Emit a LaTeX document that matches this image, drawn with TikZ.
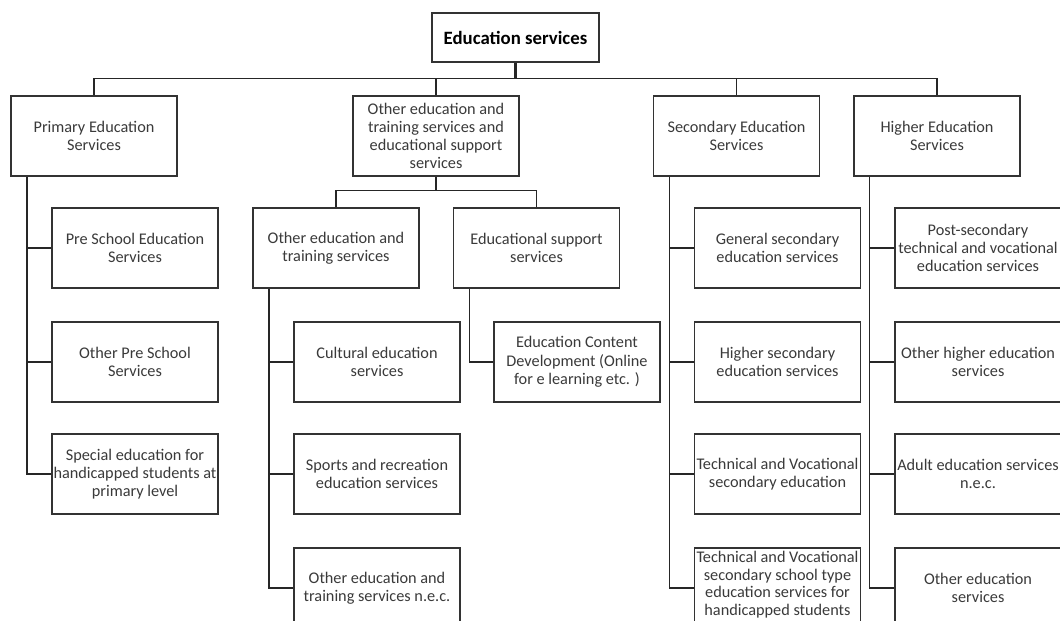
\documentclass[tikz,border=0pt]{standalone}
\usepackage{fontspec}
\setmainfont{Carlito}
\usetikzlibrary{calc}
\definecolor{ink}{HTML}{3A3A3A}
\definecolor{edge}{HTML}{333333}

\begin{document}
\begin{tikzpicture}[x=0.75pt,y=-0.75pt,
  box/.style={draw=edge, line width=1.1pt, fill=white,
    minimum width=124.5pt, minimum height=60pt, inner sep=0pt,
    align=center, font=\fontsize{12.2}{13.7}\selectfont, text=ink},
  headbox/.style={box, minimum width=125.25pt, minimum height=36.75pt,
    font=\bfseries\fontsize{14.1}{16}\selectfont, text=black},
  boxtext/.style={inner sep=0pt, align=center, text=ink,
    font=\fontsize{12.2}{13.1}\selectfont},
  link/.style={draw=black!85, line width=1.1pt}]

\useasboundingbox (0,0) rectangle (1060,621);
\clip (0,0) rectangle (1060,621);

% root
\node[headbox] (top) at (515.5,37.5) {Education services};

% first level
\node[box] (primary)   at (94,136)    {Primary Education\\Services};
\node[box] (middle)    at (436,136)   {Other education and\\training services and\\educational support\\services};
\node[box] (secondary) at (736.5,136) {Secondary Education\\Services};
\node[box] (higher)    at (937,136)   {Higher Education\\Services};

% second level under the middle branch
\node[box] (otheredu)  at (336,248)   {Other education and\\training services};
\node[box] (edsupport) at (536.5,248) {Educational support\\services};

% primary column
\node[box] (preschool) at (135,248) {Pre School Education\\Services};
\node[box] (otherpre)  at (135,362) {Other Pre School\\Services};
\node[box] (special)   at (135,474) {Special education for\\handicapped students at\\primary level};

% other education and training column
\node[box] (cultural)  at (377,362) {Cultural education\\services};
\node[box] (sports)    at (377,474) {Sports and recreation\\education services};
\node[box] (nec)       at (377,588) {Other education and\\training services n.e.c.};

% educational support column
\node[box] (content)   at (577,362) {Education Content\\Development (Online\\for e learning etc. )};

% secondary column
\node[box] (generalsec) at (777.5,248) {General secondary\\education services};
\node[box] (highersec)  at (777.5,362) {Higher secondary\\education services};
\node[box] (techvoc)    at (777.5,474) {Technical and Vocational\\secondary education};
\node[box] (tvhand)     at (777.5,588) {};
\node[boxtext] (tvhandtxt) at ([yshift=2.6pt]tvhand.center)
  {Technical and Vocational\\secondary school type\\education services for\\handicapped students};

% higher column
\node[box] (postsec)     at (978,248) {Post-secondary\\technical and vocational\\education services};
\node[box] (otherhigher) at (978,362) {Other higher education\\services};
\node[box] (adult)       at (978,474) {Adult education services\\n.e.c.};
\node[box] (otheredserv) at (978,588) {Other education\\services};

% buses
\coordinate (bus) at (0,78.5);
\coordinate (sub) at (0,190.5);

\draw[link, line width=1.8pt] (top.south) -- (top.south |- bus);
\draw[link] (primary.north) -- (primary.north |- bus) -- (higher.north |- bus) -- (higher.north);
\draw[link] (middle.north) -- (middle.north |- bus);
\draw[link] (secondary.north) -- (secondary.north |- bus);

\draw[link] (middle.south) -- (middle.south |- sub);
\draw[link] (otheredu.north) -- (otheredu.north |- sub) -- (edsupport.north |- sub) -- (edsupport.north);

% trunks
\coordinate (tp) at ([xshift=12.4pt]primary.south west);
\coordinate (to) at ([xshift=12.6pt]otheredu.south west);
\coordinate (te) at ([xshift=12.6pt]edsupport.south west);
\coordinate (ts) at ([xshift=12.6pt]secondary.south west);
\coordinate (th) at ([xshift=12.2pt]higher.south west);

\draw[link] (tp) |- (special.west);
\draw[link] (preschool.west) -- (preschool.west -| tp);
\draw[link] (otherpre.west) -- (otherpre.west -| tp);

\draw[link] (to) |- (nec.west);
\draw[link] (cultural.west) -- (cultural.west -| to);
\draw[link] (sports.west) -- (sports.west -| to);

\draw[link] (te) |- (content.west);

\draw[link] (ts) |- (tvhand.west);
\draw[link] (generalsec.west) -- (generalsec.west -| ts);
\draw[link] (highersec.west) -- (highersec.west -| ts);
\draw[link] (techvoc.west) -- (techvoc.west -| ts);

\draw[link] (th) |- (otheredserv.west);
\draw[link] (postsec.west) -- (postsec.west -| th);
\draw[link] (otherhigher.west) -- (otherhigher.west -| th);
\draw[link] (adult.west) -- (adult.west -| th);

\end{tikzpicture}
\end{document}
